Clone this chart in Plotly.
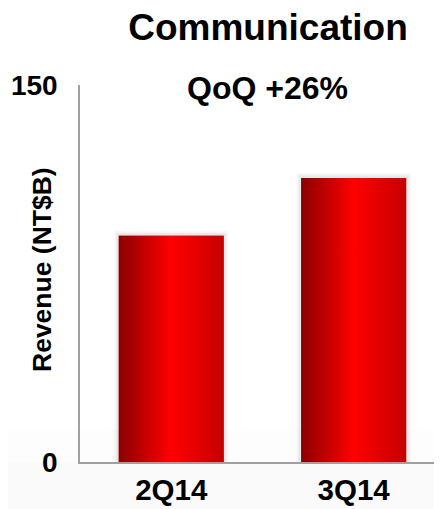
import plotly.graph_objects as go

categories = ["2Q14", "3Q14"]
revenue = [90, 113]
y_ticks = [0, 150]
title_text = "Communication"
y_title = "Revenue (NT$B)"
note_text = "QoQ +26%"

BAR_W = 0.575
FONT = "Arial, Liberation Sans, sans-serif"
gradient = [[0, "#8c0000"], [0.5, "#ff0000"], [1, "#c60000"]]

# the html page body has an 8px margin; size the figure so it fits the window
FIG_W, FIG_H = 434, 501

fig = go.Figure()

# soft shadow layers
for extra, alpha in [(0.05, 0.035), (0.028, 0.05)]:
    fig.add_trace(go.Bar(
        x=list(range(len(categories))), y=[v + extra * 40 for v in revenue],
        width=BAR_W + extra, marker=dict(color=f"rgba(0,0,0,{alpha})", line=dict(width=0)),
        hoverinfo="skip", showlegend=False))

# base bars
fig.add_trace(go.Bar(
    x=list(range(len(categories))), y=revenue, width=BAR_W,
    marker=dict(color="#dd0000", line=dict(width=0)),
    showlegend=False, name="Revenue"))

# gradient fill overlays built from the data
for i, v in enumerate(revenue):
    x0, x1 = i - BAR_W / 2, i + BAR_W / 2
    fig.add_trace(go.Scatter(
        x=[x0, x1, x1, x0, x0], y=[0, 0, v, v, 0],
        mode="lines", line=dict(width=0), fill="toself",
        fillgradient=dict(type="horizontal", colorscale=gradient, start=x0, stop=x1),
        hoverinfo="skip", showlegend=False))

fig.update_layout(
    width=FIG_W, height=FIG_H,
    margin=dict(l=72, r=0, t=77, b=47),
    paper_bgcolor="white", plot_bgcolor="rgba(0,0,0,0)",
    barmode="overlay",
    title=dict(text=f"<b>{title_text}</b>", x=260 / FIG_W, xanchor="center",
               y=1 - 19 / FIG_H, yanchor="middle", yref="container",
               font=dict(family=FONT, size=37, color="black")),
    font=dict(family=FONT, color="black"),
    xaxis=dict(range=[-0.5, 1.484], tickvals=list(range(len(categories))),
               ticktext=[f"<b>{c}</b>" for c in categories],
               showgrid=False, zeroline=False, showline=True, automargin=False,
               linecolor="#a0a0a0", linewidth=1.5, ticks="",
               tickfont=dict(family=FONT, size=29.5, color="black"),
               ticklabelstandoff=1),
    yaxis=dict(range=[0, 150], tickvals=y_ticks,
               ticktext=[f"<b>{t}</b>" for t in y_ticks],
               showgrid=False, zeroline=False, showline=True, automargin=False,
               linecolor="#a0a0a0", linewidth=1.5, ticks="",
               tickfont=dict(family=FONT, size=28, color="black"),
               ticklabelstandoff=15),
    shapes=[
        dict(type="rect", xref="paper", yref="paper", layer="below",
             x0=-80 / 362, x1=1.05, y0=-60 / 377, y1=32 / 377,
             fillcolor="#fdfdfd", line=dict(width=0)),
        dict(type="rect", xref="paper", yref="paper", layer="below",
             x0=-80 / 362, x1=1.05, y0=-60 / 377, y1=0 / 377,
             fillcolor="#fafafa", line=dict(width=0)),
    ],
    annotations=[
        dict(text=f"<b>{y_title}</b>", textangle=-90, xref="paper", yref="paper",
             x=-38 / 362, y=(462 - 270) / 377, xanchor="center", yanchor="middle",
             showarrow=False, font=dict(family=FONT, size=26.5, color="black")),
        dict(text=f"<b>{note_text}</b>", xref="paper", yref="paper",
             x=(267 - 80) / 362, y=(462 - 88) / 377, xanchor="center", yanchor="middle",
             showarrow=False, font=dict(family=FONT, size=32, color="black")),
    ],
)

fig.write_html("out.html")
